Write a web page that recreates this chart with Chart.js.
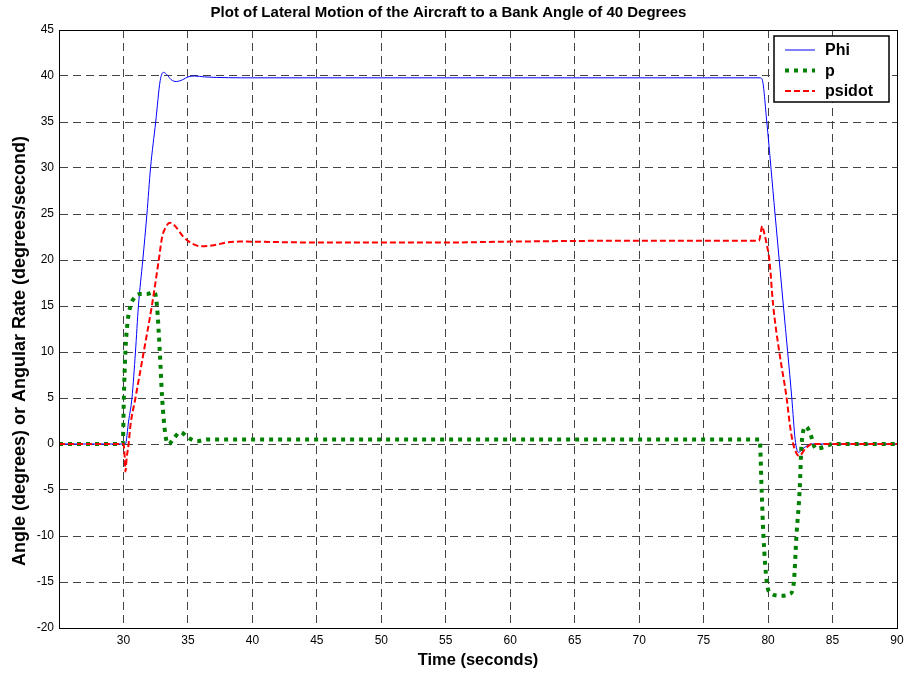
<!DOCTYPE html>
<html>
<head>
    <title>Lateral Motion</title>
    <style>
        html, body { margin: 0; padding: 0; background: #fff; }
        .chart-container { width: 907px; height: 675px; }
    </style>
</head>
<body>
<div class="chart-container">
    <canvas id="myChart"></canvas>
</div>
<script src="https://cdn.jsdelivr.net/npm/chart.js"></script>
<script>
    // time (s) and value arrays for each series
    const phiTime = [25, 30, 30.15, 30.4, 30.66, 30.93, 31.16, 31.5, 31.82, 32.1, 32.5, 32.85, 33.1, 33.4, 33.7, 34.1, 34.6, 35.0, 35.5, 36.3, 40, 50, 60, 70, 79.4, 79.55, 79.9, 80.54, 81.19, 81.84, 82.1, 82.35, 82.8, 83.4, 90];
    const phiValues = [0, 0, 0, 2.5, 5, 10, 15, 20, 25, 30, 35, 39.5, 40.4, 40.1, 39.6, 39.4, 39.6, 39.9, 40, 39.9, 39.8, 39.8, 39.8, 39.8, 39.8, 39.6, 35, 25, 15, 5, 0.5, -0.9, -0.4, 0, 0];

    const pTime = [25, 29.95, 30.03, 30.15, 30.3, 30.54, 30.8, 31.3, 31.8, 32.4, 32.6, 32.82, 33.0, 33.25, 33.5, 33.9, 34.4, 35.0, 35.7, 36.5, 40, 50, 60, 70, 79.35, 79.5, 79.64, 79.9, 80.2, 81.0, 81.7, 82.0, 82.2, 82.45, 82.6, 82.95, 83.3, 83.7, 84.4, 85, 90];
    const pValues = [0, 0, 5, 10, 13, 15, 15.8, 16.3, 16.3, 16.5, 15, 10, 5, 1, 0, 0.6, 1.3, 0.7, 0.3, 0.5, 0.5, 0.5, 0.5, 0.5, 0.5, -5, -10, -15, -16.2, -16.5, -16.3, -15, -10, -5, 0, 1.9, 1, -0.5, -0.3, 0, 0];

    const psidotTime = [25, 30, 30.1, 30.15, 30.25, 30.4, 30.54, 30.93, 31.57, 32.2, 32.74, 33.0, 33.3, 33.6, 34.0, 34.6, 35.3, 36.0, 37.0, 38.0, 39.0, 45, 55, 60, 70, 79.3, 79.55, 79.65, 79.85, 80.1, 80.4, 80.87, 81.44, 81.7, 81.95, 82.2, 82.4, 82.9, 83.4, 90];
    const psidotValues = [0, 0, -1.5, -3, -1.5, 0, 2, 5, 10, 15, 20, 22.5, 23.6, 24.05, 23.7, 22.6, 21.8, 21.5, 21.6, 21.9, 22.0, 21.9, 21.9, 22.0, 22.1, 22.1, 23.7, 23.2, 22, 20, 15, 10, 5, 2, 0, -1, -1.3, -0.5, 0, 0];

    const seriesNames = ['Phi', 'p', 'psidot'];
    const xTickValues = [30, 35, 40, 45, 50, 55, 60, 65, 70, 75, 80, 85, 90];
    const yTitle = 'Angle (degrees) or Angular Rate (degrees/second)';

    const toPoints = (ts, vs) => ts.map((t, i) => ({x: t, y: vs[i]}));
    const font = 'Arial, "Liberation Sans", sans-serif';

    // no dashed grid line on the frame edges
    const gridColor = (max) => ctx => (ctx.tick && ctx.tick.value === max) ? 'rgba(0,0,0,0)' : '#444';

    // frame, y title and legend box drawn over the plot
    const framePlugin = {
        id: 'frame',
        afterDraw(chart) {
            const ctx = chart.ctx;
            const a = chart.chartArea;
            ctx.save();
            ctx.strokeStyle = '#000';
            ctx.lineWidth = 1;
            ctx.setLineDash([]);
            ctx.strokeRect(a.left + 0.5, a.top + 0.5, a.right - a.left, a.bottom - a.top);

            // y axis title
            ctx.save();
            ctx.translate(20, 351);
            ctx.rotate(-Math.PI / 2);
            ctx.font = 'bold 18px ' + font;
            ctx.fillStyle = '#000';
            ctx.textAlign = 'center';
            ctx.textBaseline = 'middle';
            ctx.fillText(yTitle, 0, 0);
            ctx.restore();

            const box = {x: 774, y: 36, w: 115, h: 66};
            ctx.fillStyle = '#fff';
            ctx.fillRect(box.x, box.y, box.w, box.h);
            ctx.lineWidth = 1.5;
            ctx.strokeRect(box.x, box.y, box.w, box.h);
            ctx.font = 'bold 16px ' + font;
            ctx.textBaseline = 'middle';
            chart.data.datasets.forEach((ds, i) => {
                const y = 50 + i * 20.5;
                ctx.beginPath();
                ctx.strokeStyle = ds.borderColor;
                ctx.lineWidth = ds.borderWidth;
                ctx.setLineDash(ds.borderDash || []);
                ctx.moveTo(785, y);
                ctx.lineTo(815, y);
                ctx.stroke();
                ctx.fillStyle = '#000';
                ctx.fillText(seriesNames[i], 825, y + 1);
            });
            ctx.restore();
        }
    };

    const chartConfig = {
        type: 'scatter',
        data: {
            datasets: [{
                label: seriesNames[0],
                data: toPoints(phiTime, phiValues),
                borderColor: '#0000ff',
                borderWidth: 1,
                order: 3
            }, {
                label: seriesNames[1],
                data: toPoints(pTime, pValues),
                borderColor: '#008000',
                borderWidth: 4,
                borderDash: [4, 5],
                order: 2
            }, {
                label: seriesNames[2],
                data: toPoints(psidotTime, psidotValues),
                borderColor: '#ff0000',
                borderWidth: 2,
                borderDash: [6, 3],
                order: 1
            }]
        },
        options: {
            responsive: true,
            maintainAspectRatio: false,
            animation: false,
            showLine: true,
            elements: {
                point: {radius: 0},
                line: {cubicInterpolationMode: 'monotone', fill: false}
            },
            layout: {padding: {right: 10, top: 0, bottom: 0, left: 0}},
            plugins: {
                legend: {display: false},
                tooltip: {enabled: false},
                title: {
                    display: true,
                    text: 'Plot of Lateral Motion of the Aircraft to a Bank Angle of 40 Degrees',
                    color: '#000',
                    font: {family: font, size: 15, weight: 'bold'},
                    padding: {top: 4, bottom: 8}
                }
            },
            scales: {
                x: {
                    type: 'linear',
                    min: 25,
                    max: 90,
                    afterFit: s => { s.height = 47; s.paddingRight = 0; s.paddingLeft = 0; },
                    afterBuildTicks: s => { s.ticks = xTickValues.map(v => ({value: v})); },
                    grid: {color: gridColor(90), lineWidth: 1, drawTicks: false},
                    border: {color: '#000', dash: [8, 5]},
                    ticks: {color: '#000', font: {family: font, size: 12}, padding: 5, maxRotation: 0},
                    title: {
                        display: true,
                        text: 'Time (seconds)',
                        color: '#000',
                        font: {family: font, size: 16.5, weight: 'bold'},
                        padding: {top: 0, bottom: 5}
                    }
                },
                y: {
                    min: -20,
                    max: 45,
                    afterFit: s => { s.width = 59; },
                    grid: {color: gridColor(45), lineWidth: 1, drawTicks: false},
                    border: {color: '#000', dash: [8, 5]},
                    ticks: {stepSize: 5, color: '#000', font: {family: font, size: 12}, padding: 5}
                }
            }
        },
        plugins: [framePlugin]
    };

    const canvas = document.getElementById('myChart');
    const chart = new Chart(canvas, chartConfig);
</script>
</body>
</html>
